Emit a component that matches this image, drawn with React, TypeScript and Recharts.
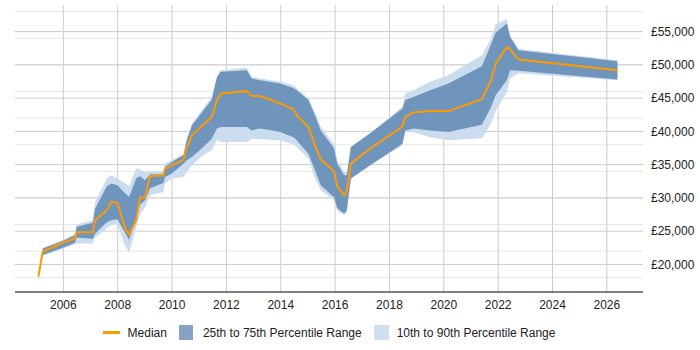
import { Area, CartesianGrid, ComposedChart, Line, XAxis, YAxis } from "recharts";

// Salary percentiles sampled over time (fractional years)
const years = [
  2005.08, 2005.24, 2006.0, 2006.43, 2006.49, 2007.08, 2007.17, 2007.6, 2007.76, 2007.99,
  2008.27, 2008.42, 2008.68, 2008.82, 2009.01, 2009.19, 2009.68, 2009.74, 2009.99, 2010.42,
  2010.54, 2010.73, 2011.15, 2011.46, 2011.65, 2011.79, 2012.75, 2012.93, 2013.24, 2013.98,
  2014.47, 2014.59, 2015.02, 2015.26, 2015.47, 2015.96, 2016.08, 2016.33, 2016.43, 2016.58,
  2017.29, 2018.48, 2018.58, 2018.88, 2019.5, 2020.17, 2021.4, 2021.74, 2021.91, 2022.32,
  2022.44, 2022.75, 2026.39,
];

const median = [
  18150, 21900, 23300, 23900, 24850, 24850, 26650, 28150, 29400, 29250,
  25400, 24500, 26650, 30050, 30050, 33250, 33400, 34400, 34900, 35750,
  37550, 39400, 41000, 42150, 44700, 45700, 46050, 45300, 45300, 44200,
  43300, 42400, 40650, 37900, 35800, 34000, 31750, 30400, 30900, 35150,
  37400, 40750, 42150, 42850, 43050, 43050, 44850, 47700, 50200, 52700,
  52300, 50800, 49200,
];

const p10 = [
  null, 21300, 22400, 23050, 23150, 23150, 24050, 25450, 25900, 26050,
  22750, 21750, 25600, 27550, 28600, 30400, 30900, 32150, 32900, 33150,
  33850, 34900, 36400, 37150, 38650, 38400, 38400, 38900, 38800, 38650,
  38050, 37650, 35900, 32950, 31150, 29650, 28150, 27400, 27850, 32900,
  34900, 37900, 39900, 39850, 39100, 38650, 38950, 41200, 43150, 45900,
  47950, 48750, 47700,
];

const p25 = [
  null, 21400, 22550, 23250, 24050, 23850, 24650, 26350, 26650, 26800,
  24750, 23650, 26950, 29000, 29650, 31450, 32250, 33150, 33650, 35150,
  35650, 36150, 37650, 38900, 40450, 40650, 40650, 40150, 40450, 39900,
  39100, 38650, 36650, 34150, 31900, 30100, 28400, 27650, 28150, 32900,
  34900, 38150, 40150, 40450, 40150, 39900, 41000, 43650, 45450, 47700,
  49200, 49100, 47800,
];

const p75 = [
  null, 22400, 23550, 24400, 25650, 26250, 28400, 31750, 32150, 31900,
  30700, 30150, 32950, 33250, 32650, 33550, 33550, 34650, 35400, 36400,
  38650, 40900, 43150, 44800, 48100, 48950, 49200, 47950, 47700, 47200,
  46500, 46200, 44700, 42400, 40150, 37450, 35150, 33400, 33400, 37650,
  39700, 43450, 44700, 45150, 46200, 47200, 49800, 53100, 54850, 56200,
  54200, 52200, 50550,
];

const p90 = [
  null, 22450, 23750, 24650, 26050, 26650, 29400, 32950, 33400, 32900,
  32200, 31750, 34450, 34300, 33850, 34000, 34050, 35200, 35650, 36650,
  38950, 41200, 43450, 45150, 48300, 49200, 49550, 48200, 47950, 47450,
  46950, 46450, 44950, 42900, 40750, 38050, 35650, 33900, 33850, 37650,
  39700, 43750, 45700, 46200, 47450, 48450, 51450, 53950, 56100, 56950,
  54450, 52400, 50700,
];

const xTicks = [2006, 2008, 2010, 2012, 2014, 2016, 2018, 2020, 2022, 2024, 2026];
const yTicks = [20000, 25000, 30000, 35000, 40000, 45000, 50000, 55000];
const yMinorTicks = Array.from({ length: 43 }, (_, i) => 16000 + i * 1000);

const data = years.map((year, i) => ({
  year,
  median: median[i],
  outer: p10[i] == null ? null : [p10[i], p90[i]],
  inner: p25[i] == null ? null : [p25[i], p75[i]],
}));

const FONT = '"Liberation Sans", Arial, sans-serif';
const ORANGE = "#ff9900";
const DARK = "#7095bd";
const LIGHT = "#cadcee";

const formatPounds = (v: number) => "£" + v.toLocaleString("en-GB");

function LegendRow() {
  const item = { display: "flex", alignItems: "center", marginRight: 12 };
  const text = { fontSize: 12, color: "#222", fontFamily: FONT };
  return (
    <div
      style={{
        position: "absolute",
        top: 325,
        left: 0,
        width: 658,
        display: "flex",
        justifyContent: "center",
      }}
    >
      <div style={item}>
        <span style={{ width: 17, height: 3, background: ORANGE, marginRight: 8 }} />
        <span style={text}>Median</span>
      </div>
      <div style={item}>
        <span style={{ width: 14, height: 15, background: "#87a3c4", marginRight: 10 }} />
        <span style={text}>25th to 75th Percentile Range</span>
      </div>
      <div style={{ ...item, marginRight: 0 }}>
        <span style={{ width: 15, height: 15, background: "#cfdfef", marginRight: 8 }} />
        <span style={text}>10th to 90th Percentile Range</span>
      </div>
    </div>
  );
}

export default function App() {
  return (
    <div style={{ position: "absolute", left: 0, top: 0, width: 700, height: 350, background: "#fff" }}>
      <ComposedChart
        width={700}
        height={320}
        data={data}
        margin={{ top: 5, right: 0, left: 15, bottom: 0 }}
      >
        <CartesianGrid
          horizontalValues={yMinorTicks}
          vertical={false}
          stroke="#e6e6e6"
        />
        <CartesianGrid
          horizontalValues={yTicks}
          verticalValues={xTicks}
          stroke="#cccccc"
        />
        <XAxis
          dataKey="year"
          type="number"
          domain={[2004.22, 2027.33]}
          ticks={xTicks}
          allowDataOverflow
          height={28}
          tickLine={false}
          axisLine={{ stroke: "#000" }}
          tick={{ fontSize: 12, fill: "#222", fontFamily: FONT }}
        />
        <YAxis
          orientation="right"
          type="number"
          domain={[15850, 59000]}
          ticks={yTicks}
          allowDataOverflow
          width={57}
          tickLine={false}
          axisLine={false}
          tickFormatter={formatPounds}
          tick={{ fontSize: 12, fill: "#222", fontFamily: FONT }}
        />
        <Area
          type="linear"
          dataKey="outer"
          stroke="none"
          fill={LIGHT}
          fillOpacity={1}
          isAnimationActive={false}
        />
        <Area
          type="linear"
          dataKey="inner"
          stroke="none"
          fill={DARK}
          fillOpacity={1}
          isAnimationActive={false}
        />
        <Line
          type="linear"
          dataKey="median"
          stroke={ORANGE}
          strokeWidth={2}
          dot={false}
          isAnimationActive={false}
        />
      </ComposedChart>
      <LegendRow />
    </div>
  );
}
